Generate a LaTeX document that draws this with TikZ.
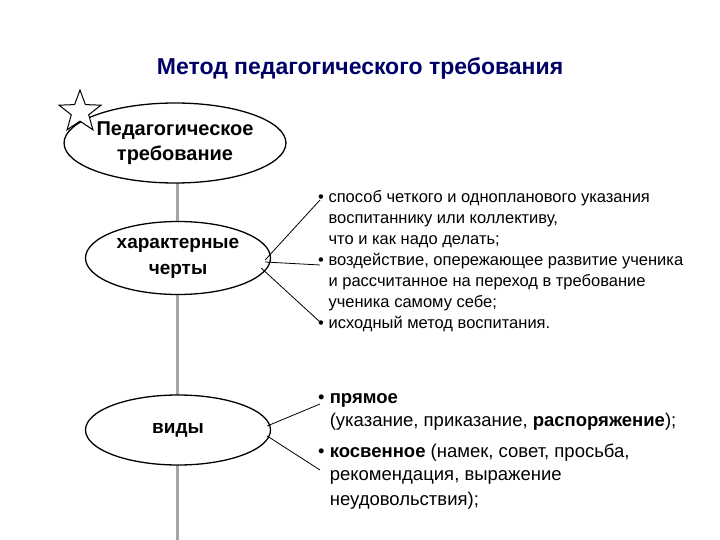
\documentclass[tikz,border=0pt]{standalone}
\usepackage{fontspec}
\setmainfont{Liberation Sans}
\usetikzlibrary{shapes.geometric}
\begin{document}
\begin{tikzpicture}[x=1pt,y=-1pt,
  ell/.style={draw,line width=1.3pt,ellipse,minimum width=#1,align=center,inner sep=0pt,font=\fontsize{21}{26}\selectfont\bfseries},
  con/.style={line width=0.8pt},
  txt/.style={anchor=north west,align=left,font=\fontsize{16.5}{21}\selectfont,inner sep=0pt}]
\useasboundingbox (0,0) rectangle (720,540);
\node[font=\fontsize{23}{26}\selectfont\bfseries,text=blue!40!black] (title) at (360,68) {Метод педагогического требования};
\coordinate (bot) at (177,540);
\draw[line width=3pt,gray!70] (177,183) -- (bot);
\node[ell=220pt,minimum height=80pt,fill=white,font=\fontsize{20}{25}\selectfont\bfseries] (e1) at (175,143) {Педагогическое\\требование};
\node[ell=185pt,minimum height=73pt,fill=white,font=\fontsize{19}{26}\selectfont\bfseries] (e2) at (178,258) {характерные\\черты};
\node[ell=185pt,minimum height=70pt,fill=white,font=\fontsize{19}{22}\selectfont\bfseries] (e3) at (178,430) {виды};
\node[draw,star,star points=5,star point ratio=2.4,minimum size=44pt,inner sep=0pt,line width=1pt,fill=white] (st) at (80,112) {};
\node[txt] (t1) at (318,190) {• способ четкого и однопланового указания\\
\phantom{• }воспитаннику или коллективу,\\
\phantom{• }что и как надо делать;\\
• воздействие, опережающее развитие ученика\\
\phantom{• }и рассчитанное на переход в требование\\
\phantom{• }ученика самому себе;\\
• исходный метод воспитания.};
\node[txt,font=\fontsize{18.5}{23}\selectfont] (t2) at (318,393) {• \textbf{прямое}\\
\phantom{• }(указание, приказание, \textbf{распоряжение});\\[8pt]
• \textbf{косвенное} (намек, совет, просьба,\\
\phantom{• }рекомендация, выражение\\[2pt]
\phantom{• }неудовольствия);};
\coordinate (b1) at (320,200); \coordinate (b2) at (320,265); \coordinate (b3) at (320,322);
\coordinate (b4) at (320,404); \coordinate (b5) at (320,470);
\draw[con] (e2.east) ++(-6,2) -- (b1);
\draw[con] (e2.east) ++(-6,4) -- (b2);
\draw[con] (e2.east) ++(-10,10) -- (b3);
\draw[con] (e3.east) ++(-4,-4) -- (b4);
\draw[con] (e3.east) ++(-4,6) -- (b5);
\end{tikzpicture}
\end{document}
